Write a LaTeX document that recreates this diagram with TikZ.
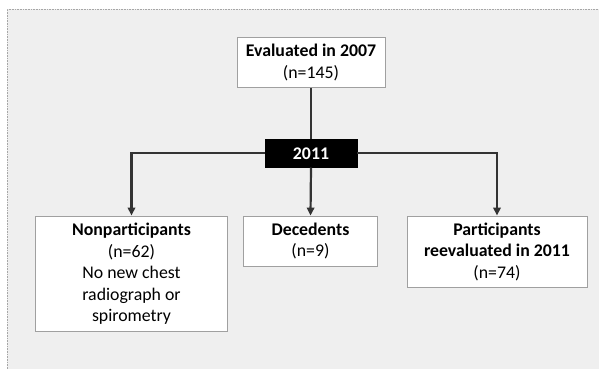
\documentclass[tikz,border=0pt]{standalone}
\usepackage{fontspec}
\setmainfont{Carlito}
\usetikzlibrary{arrows.meta}
\definecolor{bgc}{HTML}{EFEFEF}
\definecolor{linec}{HTML}{333333}
\definecolor{boxc}{HTML}{A0A0A0}
\tikzset{
  box/.style={draw=boxc, line width=0.9pt, fill=white, align=center, inner sep=2pt,
    font=\fontsize{17.8}{21.5}\selectfont},
  yearbox/.style={draw=black, fill=black, text=white, minimum width=92pt, minimum height=28pt,
    inner sep=0pt, font=\bfseries\fontsize{17.8}{20}\selectfont},
  conn/.style={draw=linec, line width=2.2pt},
  arr/.style={conn, -{Triangle[length=8pt,width=7.5pt]}}
}
\begin{document}
\begin{tikzpicture}[x=1pt,y=-1pt]
\useasboundingbox (0,0) rectangle (599,369);
\fill[white] (0,0) rectangle (599,369);
\fill[bgc] (7,9) rectangle (599,369);
\draw[gray!70, densely dotted, line width=0.6pt] (7,369) -- (7,9) -- (599,9);

\node[box, minimum width=148pt, minimum height=50pt] (top) at (311,62.3)
  {\textbf{Evaluated in 2007}\\(n=145)};
\node[yearbox] (yr) at (311,153.3) {2011};
\node[box, minimum width=192pt, minimum height=115.7pt] (left) at (131.5,273.8)
  {\textbf{Nonparticipants}\\(n=62)\\No new chest\\radiograph or\\spirometry};
\node[box, minimum width=134pt, minimum height=50pt] (mid) at (310.5,241)
  {\textbf{Decedents}\\(n=9)};
\node[box, minimum width=180pt, minimum height=71.7pt] (right) at (497,251.8)
  {\textbf{Participants}\\\textbf{reevaluated in 2011}\\(n=74)};

\draw[conn] (top.south) -- (yr.north);
\draw[arr] (yr.west) -| (left.north);
\draw[arr] (yr.east) -| (right.north);
\draw[arr] (yr.south) -- (mid.north);
\end{tikzpicture}
\end{document}
